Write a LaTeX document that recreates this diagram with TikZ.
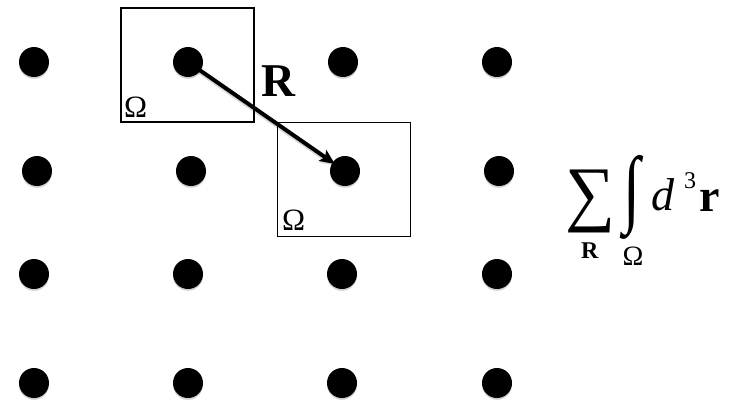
\documentclass[tikz,border=0pt]{standalone}
\usepackage{fontspec}
\setmainfont{Liberation Serif}
\usetikzlibrary{arrows.meta}
\begin{document}
\begin{tikzpicture}[x=1pt,y=-1pt,
  dot/.style={circle,fill=black,inner sep=0pt,minimum size=30pt,
    preaction={fill=black,opacity=0.18,transform canvas={yshift=-1.8pt}}},
  cell/.style={draw=black,line width=1.6pt,inner sep=0pt,minimum width=133pt,minimum height=114pt},
  lbl/.style={inner sep=0pt,anchor=base west},
  vec/.style={line width=4pt,-{Stealth[length=15pt,width=13pt,inset=3pt]},
    preaction={draw=black,opacity=0.15,line width=5pt,transform canvas={yshift=-1.5pt}}}]
\useasboundingbox (0,0) rectangle (734,400);
% lattice
\node[dot] (d11) at (34,62) {};
\node[dot] (d12) at (188,62) {};
\node[dot] (d13) at (343,62) {};
\node[dot] (d14) at (497,62) {};
\node[dot] (d21) at (37,171) {};
\node[dot] (d22) at (191,171) {};
\node[dot] (d23) at (345,171) {};
\node[dot] (d24) at (499,171) {};
\node[dot] (d31) at (34,274) {};
\node[dot] (d32) at (188,274) {};
\node[dot] (d33) at (342,274) {};
\node[dot] (d34) at (497,274) {};
\node[dot] (d41) at (34,383) {};
\node[dot] (d42) at (188,383) {};
\node[dot] (d43) at (342,383) {};
\node[dot] (d44) at (497,383) {};
% cells
\node[cell] (box1) at (187.5,65) {};
\node[cell] (box2) at (344,179.5) {};
\node[lbl] (om1) at (124,117) {\fontsize{31}{33}\selectfont Ω};
\node[lbl] (om2) at (282,230) {\fontsize{31}{33}\selectfont Ω};
% vector
\draw[vec,shorten >=-3pt] (d12.center) -- (d23);
\node[lbl] (rlab) at (261,96) {\fontsize{47}{50}\selectfont\bfseries R};
% formula
\node[inner sep=0pt] (sum) at (590.5,201.5) {\resizebox*{50pt}{63pt}{∑}};
\node[inner sep=0pt] (int) at (632,197) {\resizebox*{17pt}{84pt}{∫}};
\node[lbl] (dd) at (651,210) {\fontsize{46}{48}\selectfont\itshape d};
\node[lbl] (three) at (684,188) {\fontsize{24}{26}\selectfont 3};
\node[lbl] (rr) at (699,211) {\fontsize{46}{48}\selectfont\bfseries r};
\node[lbl] (subR) at (581,258) {\fontsize{24}{26}\selectfont\bfseries R};
\node[lbl] (subO) at (622.5,265) {\fontsize{28}{30}\selectfont Ω};
\end{tikzpicture}
\end{document}
